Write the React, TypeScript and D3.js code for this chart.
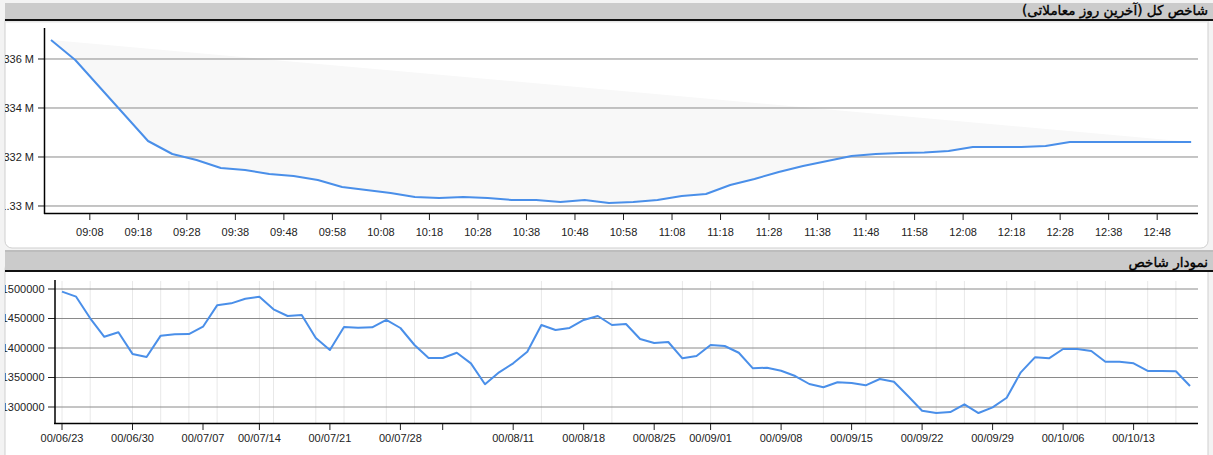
import React from "react";
import * as d3 from "d3";

// ---------- Top chart: intraday (last trading day) ----------
const intradayTimes = [
  "09:00", "09:05", "09:10", "09:15", "09:20", "09:25", "09:30", "09:35", "09:40", "09:45",
  "09:50", "09:55", "10:00", "10:05", "10:10", "10:15", "10:20", "10:25", "10:30", "10:35",
  "10:40", "10:45", "10:50", "10:55", "11:00", "11:05", "11:10", "11:15", "11:20", "11:25",
  "11:30", "11:35", "11:40", "11:45", "11:50", "11:55", "12:00", "12:05", "12:10", "12:15",
  "12:20", "12:25", "12:30", "12:35", "12:40", "12:45", "12:50", "12:55",
];
const intradayValues = [
  1336776, 1335959, 1334857, 1333755, 1332653, 1332122, 1331878, 1331551, 1331469, 1331306,
  1331224, 1331061, 1330776, 1330653, 1330531, 1330367, 1330327, 1330367, 1330327, 1330245,
  1330245, 1330163, 1330245, 1330122, 1330163, 1330245, 1330408, 1330490, 1330857, 1331102,
  1331388, 1331633, 1331837, 1332041, 1332122, 1332163, 1332184, 1332245, 1332408, 1332408,
  1332408, 1332449, 1332612, 1332612, 1332612, 1332612, 1332612, 1332612,
];
const intradayTickTimes = [
  "09:08", "09:18", "09:28", "09:38", "09:48", "09:58", "10:08", "10:18", "10:28", "10:38",
  "10:48", "10:58", "11:08", "11:18", "11:28", "11:38", "11:48", "11:58", "12:08", "12:18",
  "12:28", "12:38", "12:48",
];
const intradayYTicks = [1330000, 1332000, 1334000, 1336000];
const intradayTitle = "شاخص کل (آخرین روز معاملاتی)";

// ---------- Bottom chart: daily index ----------
const dailyValues = [
  1495500, 1487000, 1450300, 1419000, 1426600, 1390000, 1384700, 1420900, 1423200, 1423700,
  1436100, 1472300, 1475700, 1483600, 1487000, 1465600, 1454200, 1455900, 1416900, 1396600,
  1435600, 1434400, 1435000, 1447500, 1433900, 1405100, 1383000, 1383000, 1392000, 1374000,
  1338500, 1358800, 1374000, 1393700, 1439000, 1430500, 1434000, 1447500, 1454200, 1439000,
  1440700, 1415300, 1408500, 1410200, 1382500, 1386400, 1405100, 1403400, 1392000, 1365600,
  1366600, 1361500, 1352500, 1339000, 1333400, 1341900, 1340700, 1336800, 1347500, 1342900,
  1318600, 1293700, 1289800, 1291500, 1304600, 1289800, 1299500, 1315700, 1358800, 1384200,
  1382500, 1398300, 1398300, 1394900, 1376800, 1376800, 1374100, 1361100, 1361100, 1360500,
  1335600,
];
const dailyTickIndex = [0, 5, 10, 14, 19, 24, 27, 32, 37, 42, 46, 51, 56, 61, 66, 71, 76];
const dailyTickLabels = [
  "00/06/23", "00/06/30", "00/07/07", "00/07/14", "00/07/21", "00/07/28", "",
  "00/08/11", "00/08/18", "00/08/25", "00/09/01", "00/09/08", "00/09/15", "00/09/22",
  "00/09/29", "00/10/06", "00/10/13",
];
const dailyMinorGridIndex = [
  0, 2, 5, 7, 9, 11, 14, 15, 18, 20, 23, 25, 29, 34, 39, 44, 46, 49, 54, 57, 59, 62, 64, 67,
  69, 72, 74, 77, 79,
];
const dailyYTicks = [1300000, 1350000, 1400000, 1450000, 1500000];
const dailyTitle = "نمودار شاخص";

const W = 1213;
const H = 455;
const LINE = "#4a8fe9";
const GRID = "#8a8a8a";
const TICKFONT = "'Liberation Sans', Arial, sans-serif";
const TITLEFONT = "'DejaVu Sans', Tahoma, sans-serif";

const parseT = d3.timeParse("%H:%M");

export default function App() {
  // top scales
  const tX = d3.scaleTime().domain([parseT("09:00")!, parseT("12:56")!]).range([51, 1196]);
  const tY = d3.scaleLinear().domain([1329714, 1337265]).range([213, 28]);
  const topPts: [number, number][] = intradayTimes.map((t, i) => [tX(parseT(t)!), tY(intradayValues[i])]);
  const topLine = d3.line()(topPts) || "";

  // bottom scales
  const bX = d3.scaleLinear().domain([0, dailyValues.length - 1]).range([62, 1190]);
  const bY = d3.scaleLinear().domain([1272900, 1513560]).range([423, 281]);
  const botLine = d3.line<number>().x((_, i) => bX(i)).y((d) => bY(d))(dailyValues) || "";

  const titleProps = {
    textAnchor: "start" as const,
    fontFamily: TITLEFONT,
    fontSize: 13.5,
    fill: "#000",
    stroke: "#000",
    strokeWidth: 0.35,
    direction: "rtl" as const,
    style: { direction: "rtl" as const, unicodeBidi: "embed" as const },
  };

  return (
    <div style={{ position: "absolute", left: 0, top: 0, width: W, height: H, overflow: "hidden" }}>
      <svg width={W} height={H} style={{ display: "block" }}>
        <defs>
          <clipPath id="leftClip">
            <rect x={5} y={0} width={W} height={H} />
          </clipPath>
        </defs>
        <rect x={0} y={0} width={W} height={H} fill="#f3f3f3" />

        {/* ---------------- Top panel ---------------- */}
        <rect x={5} y={14} width={1203} height={234} rx={7} fill="#fff" stroke="#cfcfcf" />
        <rect x={5} y={3} width={W - 5} height={16} fill="#cbcbcb" />
        <rect x={5} y={19} width={W - 5} height={2} fill="#111" />
        <rect x={5} y={21} width={1202} height={1.5} fill="#e6e6e6" />
        <text x={1208} y={15} {...titleProps}>
          {intradayTitle}
        </text>

        {/* filled region between line and chord */}
        <path d={topLine} fill="#f8f8f8" stroke="none" />
        {intradayYTicks.map((v) => (
          <g key={v}>
            <line x1={45} x2={1198} y1={tY(v)} y2={tY(v)} stroke={GRID} strokeWidth={1} />
            <line x1={38} x2={45} y1={tY(v)} y2={tY(v)} stroke="#222" strokeWidth={1} />
            <text
              x={34}
              y={tY(v)}
              dy="0.35em"
              textAnchor="end"
              fontFamily={TICKFONT}
              fontSize={11}
              fill="#222"
              clipPath="url(#leftClip)"
            >
              {d3.format(".4~f")(v / 1e6)} M
            </text>
          </g>
        ))}
        <line x1={44.5} x2={44.5} y1={28} y2={214} stroke="#000" strokeWidth={1.5} />
        <line x1={44} x2={1198} y1={213.5} y2={213.5} stroke="#000" strokeWidth={1.5} />
        {intradayTickTimes.map((t) => {
          const x = tX(parseT(t)!);
          return (
            <g key={t}>
              <line x1={x} x2={x} y1={214} y2={220} stroke="#222" strokeWidth={1} />
              <text x={x} y={236} textAnchor="middle" fontFamily={TICKFONT} fontSize={11} fill="#222">
                {t}
              </text>
            </g>
          );
        })}
        <path d={topLine} fill="none" stroke={LINE} strokeWidth={2} strokeLinejoin="round" />

        {/* ---------------- Bottom panel ---------------- */}
        <rect x={5} y={262} width={1203} height={210} rx={7} fill="#fff" stroke="#cfcfcf" />
        <rect x={5} y={250} width={W - 5} height={2} fill="#bdbdbd" />
        <rect x={5} y={252} width={W - 5} height={18} fill="#cbcbcb" />
        <rect x={5} y={270} width={W - 5} height={2} fill="#111" />
        <text x={1208} y={267} {...titleProps}>
          {dailyTitle}
        </text>

        {dailyMinorGridIndex.map((i) => (
          <line key={"m" + i} x1={bX(i)} x2={bX(i)} y1={281} y2={423} stroke="#e8e8e8" strokeWidth={1} />
        ))}
        {dailyYTicks.map((v) => (
          <g key={v}>
            <line x1={55} x2={1198} y1={bY(v)} y2={bY(v)} stroke={GRID} strokeWidth={1} />
            <line x1={48} x2={55} y1={bY(v)} y2={bY(v)} stroke="#222" strokeWidth={1} />
            <text
              x={44.5}
              y={bY(v)}
              dy="0.35em"
              textAnchor="end"
              fontFamily={TICKFONT}
              fontSize={11}
              fill="#222"
              clipPath="url(#leftClip)"
            >
              {String(v)}
            </text>
          </g>
        ))}
        <line x1={55} x2={55} y1={280} y2={424} stroke="#000" strokeWidth={1.5} />
        <line x1={54} x2={1198} y1={423.5} y2={423.5} stroke="#000" strokeWidth={1.5} />
        {dailyTickIndex.map((idx, k) => {
          const x = bX(idx);
          return (
            <g key={"t" + idx}>
              <line x1={x} x2={x} y1={424} y2={430} stroke="#222" strokeWidth={1} />
              <text x={x} y={442} textAnchor="middle" fontFamily={TICKFONT} fontSize={11} fill="#222">
                {dailyTickLabels[k]}
              </text>
            </g>
          );
        })}
        <path d={botLine} fill="none" stroke={LINE} strokeWidth={2} strokeLinejoin="round" />
      </svg>
    </div>
  );
}
